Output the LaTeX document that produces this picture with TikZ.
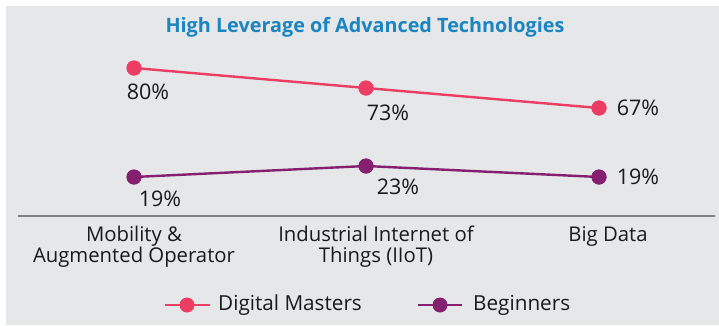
\documentclass[tikz,border=0pt]{standalone}
\usepackage{fontspec}
\setmainfont{Open Sans}
\definecolor{bgc}{HTML}{E6E7E8}
\definecolor{dmc}{HTML}{EC3E64}
\definecolor{bgn}{HTML}{84206F}
\definecolor{ttl}{HTML}{1A85C0}
\definecolor{axc}{HTML}{808080}
\definecolor{txc}{HTML}{1A1A1A}
\tikzset{
  dmline/.style={draw=dmc, line width=2.4pt},
  bgline/.style={draw=bgn, line width=2.4pt},
  dmdot/.style={circle, fill=dmc, inner sep=0pt, minimum size=15pt},
  bgdot/.style={circle, fill=bgn, inner sep=0pt, minimum size=15pt},
  val/.style={font=\fontsize{21.5}{24}\selectfont, text=txc, inner sep=0pt},
  cat/.style={font=\fontsize{20.3}{21}\selectfont, text=txc, inner sep=0pt, align=center},
  leg/.style={font=\fontsize{20.7}{22}\selectfont, text=txc, inner sep=0pt, anchor=west}
}
\begin{document}
\begin{tikzpicture}[x=1pt,y=-1pt]
\useasboundingbox (0,0) rectangle (719,325);
\fill[white] (0,0) rectangle (719,325);
\fill[bgc] (6,6) rectangle (719,325);
\node[font=\bfseries\fontsize{19.8}{22}\selectfont, text=ttl, inner sep=0pt] (title) at (365,27) {High Leverage of Advanced Technologies};
% axis
\coordinate (axl) at (18,216);
\coordinate (axr) at (715,216);
\draw[axc, line width=1.5pt] (axl) -- (axr);
% data points
\node[dmdot] (d1) at (134,68) {};
\node[dmdot] (d2) at (366,88) {};
\node[dmdot] (d3) at (599,108) {};
\node[bgdot] (b1) at (134,177) {};
\node[bgdot] (b2) at (366,166) {};
\node[bgdot] (b3) at (599,177) {};
\draw[dmline] (d1.center) -- (d2.center) -- (d3.center);
\draw[bgline] (b1.center) -- (b2.center) -- (b3.center);
\node[dmdot] at (d1) {};
\node[dmdot] at (d2) {};
\node[dmdot] at (d3) {};
\node[bgdot] at (b1) {};
\node[bgdot] at (b2) {};
\node[bgdot] at (b3) {};
% values
\node[val] (v1) at (148,92) {80\%};
\node[val] (v2) at (388,113) {73\%};
\node[val] (v3) at (638,108) {67\%};
\node[val] (w1) at (160,199) {19\%};
\node[val] (w2) at (398,187) {23\%};
\node[val] (w3) at (638,177) {19\%};
% categories
\node[cat] (c1) at (134,247) {Mobility \&\\Augmented Operator};
\node[cat] (c2) at (376,247) {Industrial Internet of\\Things (IIoT)};
\node[cat] (c3) at (608,236) {Big Data};
% legend
\coordinate (l1a) at (165,305);
\coordinate (l1b) at (210,305);
\draw[dmline] (l1a) -- (l1b);
\node[dmdot] (ld1) at (187,305) {};
\node[leg] (lt1) at (218,305) {Digital Masters};
\coordinate (l2a) at (418,305);
\coordinate (l2b) at (462,305);
\draw[bgline] (l2a) -- (l2b);
\node[bgdot] (ld2) at (440,305) {};
\node[leg] (lt2) at (473,305) {Beginners};
\end{tikzpicture}
\end{document}
